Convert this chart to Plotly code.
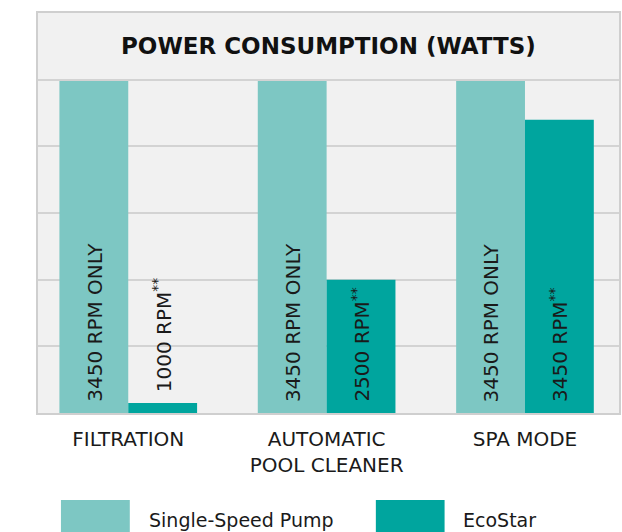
import plotly.graph_objects as go

categories = ["FILTRATION", "AUTOMATIC<br>POOL CLEANER", "SPA MODE"]
single_speed = [2490, 2490, 2490]
ecostar = [75, 1000, 2200]
single_labels = ["3450 RPM ONLY", "3450 RPM ONLY", "3450 RPM ONLY"]
eco_labels = ["1000 RPM<sup>**</sup>", "2500 RPM<sup>**</sup>", "3450 RPM<sup>**</sup>"]
series_names = ["Single-Speed Pump", "EcoStar"]
y_ticks = [0, 500, 1000, 1500, 2000, 2500]

c_single = "#7dc7c3"
c_eco = "#00a59e"
font_main = "DejaVu Sans"
txt_col = "#1a1a1a"

fig = go.Figure()
fig.add_trace(go.Bar(x=categories, y=single_speed, name=series_names[0],
                     marker=dict(color=c_single, line=dict(width=0))))
fig.add_trace(go.Bar(x=categories, y=ecostar, name=series_names[1],
                     marker=dict(color=c_eco, line=dict(width=0))))

annotations = []
for i, cat in enumerate(categories):
    annotations.append(dict(x=cat, y=0, xref="x", yref="y", text=single_labels[i],
                            textangle=-90, showarrow=False, xanchor="center", yanchor="bottom",
                            xshift=-34, yshift=9, font=dict(family=font_main, size=20, color=txt_col)))
    small = ecostar[i] < 500
    y_eco = ecostar[i] if small else 0
    annotations.append(dict(x=cat, y=y_eco, xref="x", yref="y", text=eco_labels[i],
                            textangle=-90, showarrow=False, xanchor="center", yanchor="bottom",
                            xshift=34, yshift=9,
                            font=dict(family=font_main, size=20, color=txt_col)))

# chart title inside top band
annotations.append(dict(x=0.5, y=2750, xref="paper", yref="y", text="<b>POWER CONSUMPTION (WATTS)</b>",
                        showarrow=False, xanchor="center", yanchor="middle",
                        font=dict(family=font_main, size=23, color="#111111")))

# custom legend
shapes = []
leg_x = [[0.0395, 0.158], [0.5815, 0.6998]]
leg_text_x = [0.188, 0.728]
for k, (name, col) in enumerate(zip(series_names, [c_single, c_eco])):
    shapes.append(dict(type="rect", xref="paper", yref="paper",
                       x0=leg_x[k][0], x1=leg_x[k][1], y0=-0.2175, y1=-0.33,
                       fillcolor=col, line=dict(width=0)))
    annotations.append(dict(x=leg_text_x[k], y=-0.2675, xref="paper", yref="paper", text=name,
                            showarrow=False, xanchor="left", yanchor="middle",
                            font=dict(family=font_main, size=19, color=txt_col)))

fig.update_layout(
    width=622, height=532,
    margin=dict(l=38, r=1, t=13, b=119),
    paper_bgcolor="white", plot_bgcolor="#f1f1f1",
    barmode="group", bargap=0.306, bargroupgap=0,
    showlegend=False,
    annotations=annotations, shapes=shapes,
    font=dict(family=font_main, color=txt_col),
)
fig.update_xaxes(range=[-0.455, 2.474], showgrid=False, showline=True, mirror=True,
                 linecolor="#cfcfcf", linewidth=2, ticks="", ticklabelstandoff=7,
                 tickfont=dict(family=font_main, size=20, color=txt_col))
fig.update_yaxes(range=[0, 3000], tickvals=y_ticks, showticklabels=False, showgrid=True,
                 gridcolor="#d3d3d3", gridwidth=2, zeroline=False, showline=True, mirror=True,
                 linecolor="#cfcfcf", linewidth=2, ticks="")

fig.write_html("out.html", config={"displayModeBar": False},
               post_script="document.body.style.margin='0';document.body.style.overflow='hidden';")
